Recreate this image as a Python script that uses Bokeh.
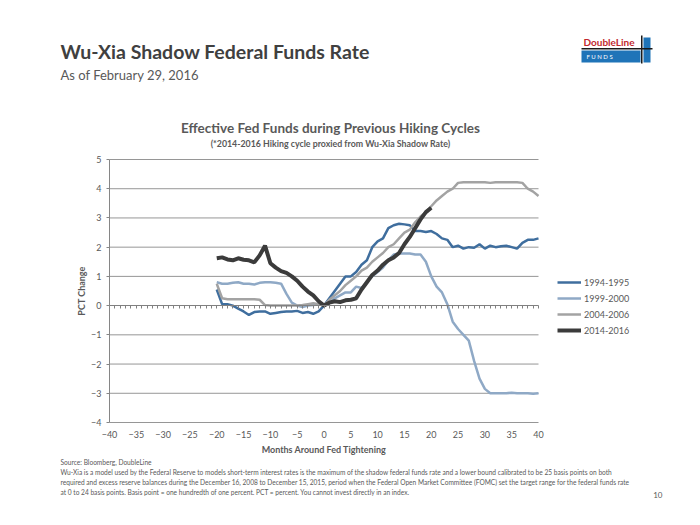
from bokeh.plotting import figure
from bokeh.models import (Label, Legend, LegendItem, FixedTicker, LinearAxis,
                          Range1d, BoxAnnotation)
from bokeh.embed import file_html
from bokeh.resources import INLINE

# ---------------- data ----------------
months = list(range(-20, 41))
months_2014 = list(range(-20, 21))

cycle_1994 = [0.55, 0.05, 0.05, 0.0, -0.1, -0.2, -0.32, -0.22, -0.2, -0.2,
              -0.28, -0.25, -0.22, -0.2, -0.2, -0.18, -0.25, -0.22, -0.28, -0.2,
              0.0, 0.25, 0.5, 0.75, 1.0, 1.0, 1.15, 1.4, 1.55, 2.0,
              2.2, 2.3, 2.65, 2.75, 2.8, 2.78, 2.75, 2.55, 2.55, 2.52,
              2.55, 2.45, 2.3, 2.25, 2.0, 2.05, 1.95, 2.0, 1.98, 2.1,
              1.95, 2.05, 2.0, 2.03, 2.05, 2.0, 1.95, 2.15, 2.25, 2.25,
              2.3]
cycle_1999 = [0.8, 0.75, 0.75, 0.78, 0.8, 0.75, 0.75, 0.72, 0.78, 0.8,
              0.8, 0.78, 0.75, 0.4, 0.1, 0.0, -0.05, 0.0, 0.02, 0.05,
              0.0, 0.1, 0.25, 0.35, 0.45, 0.45, 0.65, 0.6, 0.8, 1.0,
              1.15, 1.3, 1.55, 1.75, 1.78, 1.78, 1.78, 1.75, 1.75, 1.5,
              1.0, 0.65, 0.45, 0.05, -0.55, -0.8, -1.0, -1.2, -1.9, -2.5,
              -2.85, -3.0, -3.0, -3.0, -3.0, -2.98, -3.0, -3.0, -3.0, -3.02,
              -3.0]
cycle_2004 = [0.75, 0.25, 0.22, 0.22, 0.22, 0.22, 0.22, 0.22, 0.2, 0.02,
              0.0, 0.0, 0.0, 0.0, 0.0, 0.0, 0.02, 0.05, 0.08, 0.05,
              0.0, 0.2, 0.35, 0.5, 0.7, 0.85, 1.0, 1.2, 1.3, 1.5,
              1.65, 1.8, 2.0, 2.1, 2.3, 2.5, 2.6, 2.85, 3.05, 3.2,
              3.4, 3.6, 3.75, 3.9, 4.0, 4.2, 4.22, 4.22, 4.22, 4.22,
              4.22, 4.2, 4.22, 4.22, 4.22, 4.22, 4.22, 4.2, 4.0, 3.9,
              3.75]
cycle_2014 = [1.62, 1.65, 1.58, 1.55, 1.62, 1.57, 1.55, 1.48, 1.72, 2.05,
              1.45, 1.3, 1.18, 1.12, 1.0, 0.85, 0.65, 0.48, 0.35, 0.15,
              0.0, 0.1, 0.15, 0.12, 0.18, 0.2, 0.25, 0.55, 0.8, 1.05,
              1.2, 1.4, 1.55, 1.65, 1.8, 2.1, 2.35, 2.65, 2.95, 3.2,
              3.35]

series_names = ["1994-1995", "1999-2000", "2004-2006", "2014-2016"]
x_ticks = list(range(-40, 41, 5))
y_ticks = list(range(-4, 6))
minor_months = list(range(-40, 41))

page_title = "Wu-Xia Shadow Federal Funds Rate"
page_subtitle = "As of February 29, 2016"
chart_title = "Effective Fed Funds during Previous Hiking Cycles"
chart_subtitle = "(*2014-2016 Hiking cycle proxied from Wu-Xia Shadow Rate)"
footer_lines = [
    "Source: Bloomberg, DoubleLine",
    "Wu-Xia is a model used by the Federal Reserve to models short-term interest rates is the maximum of the shadow federal funds rate and a lower bound calibrated to be 25 basis points on both",
    "required and excess reserve balances during the December 16, 2008 to December 15, 2015, period when the Federal Open Market Committee (FOMC) set the target range for the federal funds rate",
    "at 0 to 24 basis points. Basis point =  one hundredth of one percent.  PCT = percent. You cannot invest directly in an  index.",
]
page_number = "10"

# ---------------- layout (canvas px) ----------------
W, H = 684, 509
PL, PR, PT, PB = 109, 538, 159, 422          # plot area on the canvas
X0, X1 = x_ticks[0], x_ticks[-1]
Y0, Y1 = y_ticks[0], y_ticks[-1]
kx = (PR - PL) / (X1 - X0)
ky = (PB - PT) / (Y1 - Y0)
x_range = Range1d(X0 - PL / kx, X1 + (W - PR) / kx)
y_range = Range1d(Y0 - (H - PB) / ky, Y1 + PT / ky)

GRAY_TXT = "#595959"
AXIS_GRAY = "#868686"
FONT = "Lato"

p = figure(width=W, height=H, x_range=x_range, y_range=y_range,
           x_axis_type=None, y_axis_type=None,
           output_backend="svg", toolbar_location=None, min_border=0)
p.outline_line_color = None
p.background_fill_color = "white"
p.border_fill_color = "white"

# gridlines (all but zero, which carries the horizontal axis)
grid_levels = [t for t in y_ticks if t != 0]
p.segment(x0=[X0] * len(grid_levels), x1=[X1] * len(grid_levels),
          y0=grid_levels, y1=grid_levels, line_color="#969696", line_width=1)

# bottom axis: tick labels only, positioned at the bottom of the plot area
xaxis = LinearAxis(fixed_location=Y0, bounds=(X0, X1), ticker=FixedTicker(ticks=x_ticks),
                   axis_line_color=None, major_tick_line_color=None,
                   major_tick_out=0, major_tick_in=0, minor_tick_line_color=None,
                   major_label_standoff=8, major_label_text_font=FONT,
                   major_label_text_font_size="9px", major_label_text_color=GRAY_TXT,
                   axis_label="Months Around Fed Tightening", axis_label_text_font=FONT,
                   axis_label_text_font_size="9px", axis_label_text_font_style="bold",
                   axis_label_text_color=GRAY_TXT, axis_label_standoff=3)
p.add_layout(xaxis, "below")

# horizontal axis line crossing at zero with monthly tick marks
zaxis = LinearAxis(fixed_location=0, bounds=(X0, X1), ticker=FixedTicker(ticks=minor_months),
                   axis_line_color="#808080", major_tick_line_color="#808080",
                   major_tick_out=3, major_tick_in=0, minor_tick_line_color=None,
                   major_label_overrides={m: "" for m in minor_months})
p.add_layout(zaxis, "below")

yaxis = LinearAxis(fixed_location=X0, bounds=(Y0, Y1), ticker=FixedTicker(ticks=y_ticks),
                   axis_line_color=AXIS_GRAY, major_tick_line_color=AXIS_GRAY,
                   major_tick_out=3, major_tick_in=0, minor_tick_line_color=None,
                   major_label_standoff=5, major_label_text_font=FONT,
                   major_label_text_font_size="9px", major_label_text_color=GRAY_TXT,
                   axis_label="PCT Change", axis_label_text_font=FONT,
                   axis_label_text_font_size="9px", axis_label_text_font_style="bold",
                   axis_label_text_color=GRAY_TXT, axis_label_standoff=1)
p.add_layout(yaxis, "left")

colors = ["#3f6e9e", "#8fa9c6", "#a3a3a3", "#3b3b3b"]
widths = [2.5, 2.5, 2.5, 4]
r1 = p.line(months, cycle_1994, line_color=colors[0], line_width=widths[0])
r2 = p.line(months, cycle_1999, line_color=colors[1], line_width=widths[1])
r3 = p.line(months, cycle_2004, line_color=colors[2], line_width=widths[2])
r4 = p.line(months_2014, cycle_2014, line_color=colors[3], line_width=widths[3])

legend = Legend(items=[LegendItem(label=n, renderers=[r]) for n, r in
                       zip(series_names, [r1, r2, r3, r4])],
                location=(557, H - 338), orientation="vertical",
                padding=0, margin=0, spacing=0,
                label_height=16, glyph_height=16, glyph_width=24,
                label_standoff=3,
                label_text_font=FONT, label_text_font_size="9px",
                label_text_color=GRAY_TXT,
                border_line_color=None, background_fill_alpha=0)
p.add_layout(legend)


def lab(text, px, py, size, color=GRAY_TXT, style="normal", align="left"):
    p.add_layout(Label(x=px, y=H - py, x_units="screen", y_units="screen",
                       text=text, text_font=FONT, text_font_size=f"{size}px",
                       text_color=color, text_font_style=style,
                       text_align=align, text_baseline="middle"))


def box(l, t, r, b, color):
    p.add_layout(BoxAnnotation(left=l, right=r, top=H - t, bottom=H - b,
                               left_units="screen", right_units="screen",
                               top_units="screen", bottom_units="screen",
                               fill_color=color, fill_alpha=1, line_color=None))


lab(page_title, 60, 51, 19.5, "#404040", "bold")
lab(page_subtitle, 60, 74, 13, "#595959")
lab(chart_title, 330, 127, 13.5, GRAY_TXT, "bold", "center")
lab(chart_subtitle, 330, 143, 8.8, GRAY_TXT, "bold", "center")

# logo
box(581, 50, 640, 62, "#1f74b8")
box(643, 37, 650, 62, "#1f74b8")
box(581, 47.5, 652, 49, "#1a1a1a")
box(640.5, 35, 642, 63, "#1a1a1a")
lab("DoubleLine", 583, 41, 10, "#c1272d", "bold")
lab("F   U   N   D   S", 586, 56, 6, "white")

for s, y in zip(footer_lines, [461, 471, 481, 491]):
    lab(s, 60, y, 6.6)
lab(page_number, 662, 494, 8, GRAY_TXT, "normal", "right")

open("out.html", "w").write(file_html(p, INLINE))
